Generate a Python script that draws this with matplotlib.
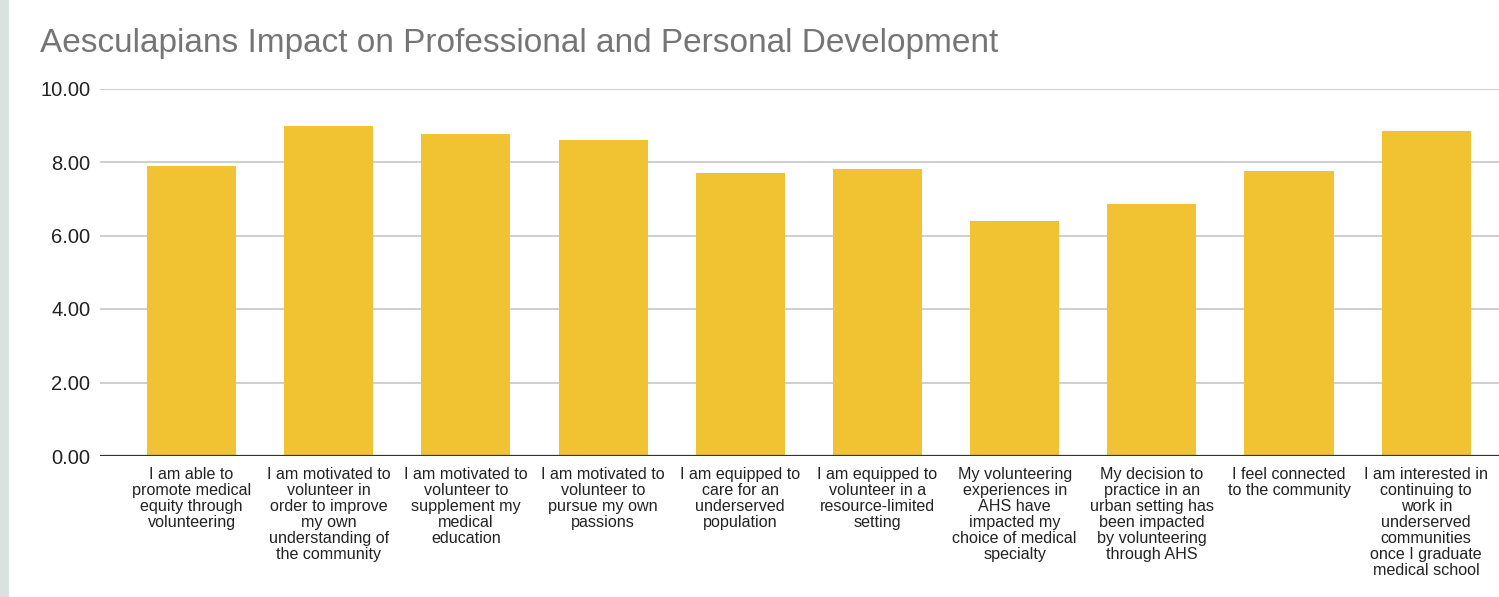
import matplotlib
matplotlib.use("Agg")
import matplotlib.pyplot as plt
import matplotlib.patches as mpatches

categories = [
    "I am able to\npromote medical\nequity through\nvolunteering",
    "I am motivated to\nvolunteer in\norder to improve\nmy own\nunderstanding of\nthe community",
    "I am motivated to\nvolunteer to\nsupplement my\nmedical\neducation",
    "I am motivated to\nvolunteer to\npursue my own\npassions",
    "I am equipped to\ncare for an\nunderserved\npopulation",
    "I am equipped to\nvolunteer in a\nresource-limited\nsetting",
    "My volunteering\nexperiences in\nAHS have\nimpacted my\nchoice of medical\nspecialty",
    "My decision to\npractice in an\nurban setting has\nbeen impacted\nby volunteering\nthrough AHS",
    "I feel connected\nto the community",
    "I am interested in\ncontinuing to\nwork in\nunderserved\ncommunities\nonce I graduate\nmedical school",
]
values = [7.89, 8.97, 8.75, 8.61, 7.70, 7.80, 6.39, 6.85, 7.76, 8.84]
yticks = [0, 2, 4, 6, 8, 10]
title = "Aesculapians Impact on Professional and Personal Development"

plt.rcParams['font.family'] = ['Liberation Sans', 'DejaVu Sans']

W, H = 1499, 597
fig = plt.figure(figsize=(W / 100, H / 100), dpi=100)
fig.patch.set_facecolor("white")

# left strip
fig.add_artist(mpatches.Rectangle((0, 0), 9 / W, 1, transform=fig.transFigure,
                                  facecolor="#D9E2DF", edgecolor="none", zorder=0))

ax_left = 100 / W
ax_bottom = (H - 456) / H
ax_top = (H - 88.5) / H
ax = fig.add_axes([ax_left, ax_bottom, 1.0 - ax_left, ax_top - ax_bottom])

x = list(range(len(values)))
ax.bar(x, values, width=0.65, color="#F1C232", zorder=3)

ax.set_ylim(0, 10)
ax.set_xlim(-0.667, 9.53)
ax.set_yticks(yticks)
ax.set_yticklabels([f"{v:.2f}" for v in yticks], fontsize=14.5, color="#222222")
ax.set_xticks(x)
ax.set_xticklabels(categories, fontsize=11.6, color="#222222", linespacing=1.08)
ax.tick_params(axis="y", length=0, pad=7)
ax.tick_params(axis="x", length=0, pad=8)

for v in yticks[1:]:
    ax.axhline(v, color="#CCCCCC", linewidth=1.3, zorder=1)
ax.axhline(0, color="#333333", linewidth=1.6, zorder=4)

for s in ax.spines.values():
    s.set_visible(False)

fig.text(40 / W, (H - 52) / H, title, fontsize=24, color="#757575",
         ha="left", va="baseline")

fig.savefig("out.png", dpi=100)
